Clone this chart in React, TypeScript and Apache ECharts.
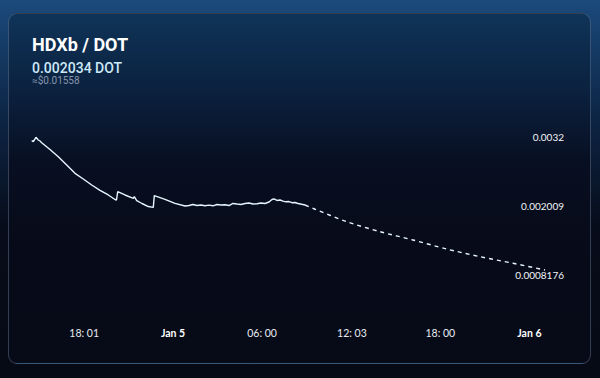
import React, { useEffect, useRef } from "react";
import * as echarts from "echarts";

// hours relative to Jan 5 00:00
const histHours = [-9.515, -9.407, -9.226, -9.071, -8.956, -8.842, -8.283, -7.724, -7.158, -6.599, -6.04, -5.475, -4.916, -4.357, -3.906, -3.805, -3.724, -3.232, -2.673, -2.606, -2.444, -2.088, -1.663, -1.327, -1.259, -0.539, 0.135, 0.808, 1.077, 1.347, 1.616, 1.886, 2.155, 2.424, 2.694, 2.963, 3.232, 3.502, 3.771, 4.04, 4.31, 4.579, 4.848, 5.118, 5.387, 5.657, 5.926, 6.195, 6.465, 6.667, 6.801, 7.003, 7.205, 7.407, 7.609, 7.811, 8.013, 8.215, 8.418, 8.667, 8.889];
const histPrices = [0.003136, 0.003119, 0.003195, 0.003148, 0.003131, 0.003102, 0.002984, 0.00286, 0.002717, 0.002573, 0.002475, 0.002371, 0.00228, 0.002199, 0.002121, 0.002112, 0.002256, 0.002199, 0.002142, 0.002169, 0.0021, 0.002052, 0.002, 0.001986, 0.002187, 0.002124, 0.002055, 0.002009, 0.002017, 0.002035, 0.002017, 0.002026, 0.002014, 0.002023, 0.002012, 0.002035, 0.002026, 0.00203, 0.002017, 0.002052, 0.002043, 0.002035, 0.002052, 0.002061, 0.002043, 0.002047, 0.002061, 0.002052, 0.002078, 0.002121, 0.00213, 0.002104, 0.002112, 0.002092, 0.002081, 0.002086, 0.002066, 0.002069, 0.002052, 0.002038, 0.002026];
const forecastHours = [8.889, 9.448, 11.697, 13.94, 16.16, 18.43, 20.67, 22.9, 25.05];
const forecastPrices = [0.002026, 0.001966, 0.001738, 0.001565, 0.001422, 0.001266, 0.001134, 0.00102, 0.000904];

const xTickValues = [-5.983, 0, 6, 12.05, 18, 24];
const xTickLabels = ["18: 01", "Jan 5", "06: 00", "12: 03", "18: 00", "Jan 6"];
const yTickValues = [0.0008176, 0.002009, 0.0032];
const yTickLabels = ["0.0008176", "0.002009", "0.0032"];

const pairName = "HDXb / DOT";
const priceText = "0.002034 DOT";
const usdText = "≈$0.01558";

export default function App() {
  const ref = useRef<HTMLDivElement>(null);
  useEffect(() => {
    if (!ref.current) return;
    const chart = echarts.init(ref.current, null, { renderer: "svg" });
    const fontFamily = "Lato, 'Noto Sans', sans-serif";
    chart.setOption({
      animation: false,
      backgroundColor: "transparent",
      grid: { left: 31.7, right: 55, top: 137, bottom: 103, containLabel: false },
      graphic: [
        {
          type: "text",
          left: 32,
          top: 35,
          style: { text: pairName, fill: "#ffffff", font: "bold 18px Roboto, 'DejaVu Sans', sans-serif" },
        },
        {
          type: "text",
          left: 32,
          top: 61,
          style: { text: priceText, fill: "#cdeaf8", font: "500 14px Roboto, 'DejaVu Sans', sans-serif" },
        },
        {
          type: "text",
          left: 32,
          top: 75,
          style: { text: usdText, fill: "#8796aa", font: "10px Roboto, 'DejaVu Sans', sans-serif" },
        },
      ],
      xAxis: {
        type: "value",
        min: histHours[0],
        max: forecastHours[forecastHours.length - 1],
        axisLine: { show: false },
        axisTick: { show: false },
        splitLine: { show: false },
        axisLabel: {
          customValues: xTickValues,
          margin: 52,
          color: "#e8ecf2",
          fontSize: 10.5,
          fontFamily,
          formatter: (v: number) => {
            const i = xTickValues.findIndex((t) => Math.abs(t - v) < 1e-6);
            const s = i >= 0 ? xTickLabels[i] : "";
            return s.startsWith("Jan") ? "{b|" + s + "}" : s;
          },
          rich: { b: { fontWeight: "bold", color: "#ffffff", fontSize: 10.5, fontFamily } },
        },
      },
      yAxis: {
        type: "value",
        position: "right",
        min: yTickValues[0],
        max: yTickValues[2],
        axisLine: { show: false },
        axisTick: { show: false },
        splitLine: { show: false },
        axisLabel: {
          customValues: yTickValues,
          align: "right",
          margin: 19,
          color: "#f2f4f7",
          fontSize: 10,
          fontFamily,
          formatter: (v: number) => {
            const i = yTickValues.findIndex((t) => Math.abs(t - v) < 1e-9);
            return i >= 0 ? yTickLabels[i] : "";
          },
        },
      },
      series: [
        {
          type: "line",
          data: histHours.map((h, i) => [h, histPrices[i]]),
          showSymbol: false,
          lineStyle: { color: "#e6f6ff", width: 1.4 },
        },
        {
          type: "line",
          data: forecastHours.map((h, i) => [h, forecastPrices[i]]),
          showSymbol: false,
          smooth: 0.3,
          lineStyle: { color: "#e6f6ff", width: 1.4, type: [4, 4] },
        },
      ],
    });
    return () => chart.dispose();
  }, []);

  return (
    <div
      style={{
        position: "fixed",
        left: 0,
        top: 0,
        width: 600,
        height: 378,
        overflow: "hidden",
        background: "linear-gradient(180deg, #1b4a7c 0%, #0d2646 30%, #070c1a 60%, #060a15 100%)",
      }}
    >
      <div
        style={{
          position: "absolute",
          left: 8,
          top: 13,
          width: 583,
          height: 351,
          boxSizing: "border-box",
          borderRadius: 9,
          border: "1px solid rgba(130,148,175,0.38)",
          background: "linear-gradient(180deg, #0f3458 0%, #0b213f 22%, #080f22 42%, #070b19 65%, #070b18 100%)",
        }}
      />
      <div ref={ref} style={{ position: "absolute", left: 0, top: 0, width: 600, height: 378 }} />
    </div>
  );
}
